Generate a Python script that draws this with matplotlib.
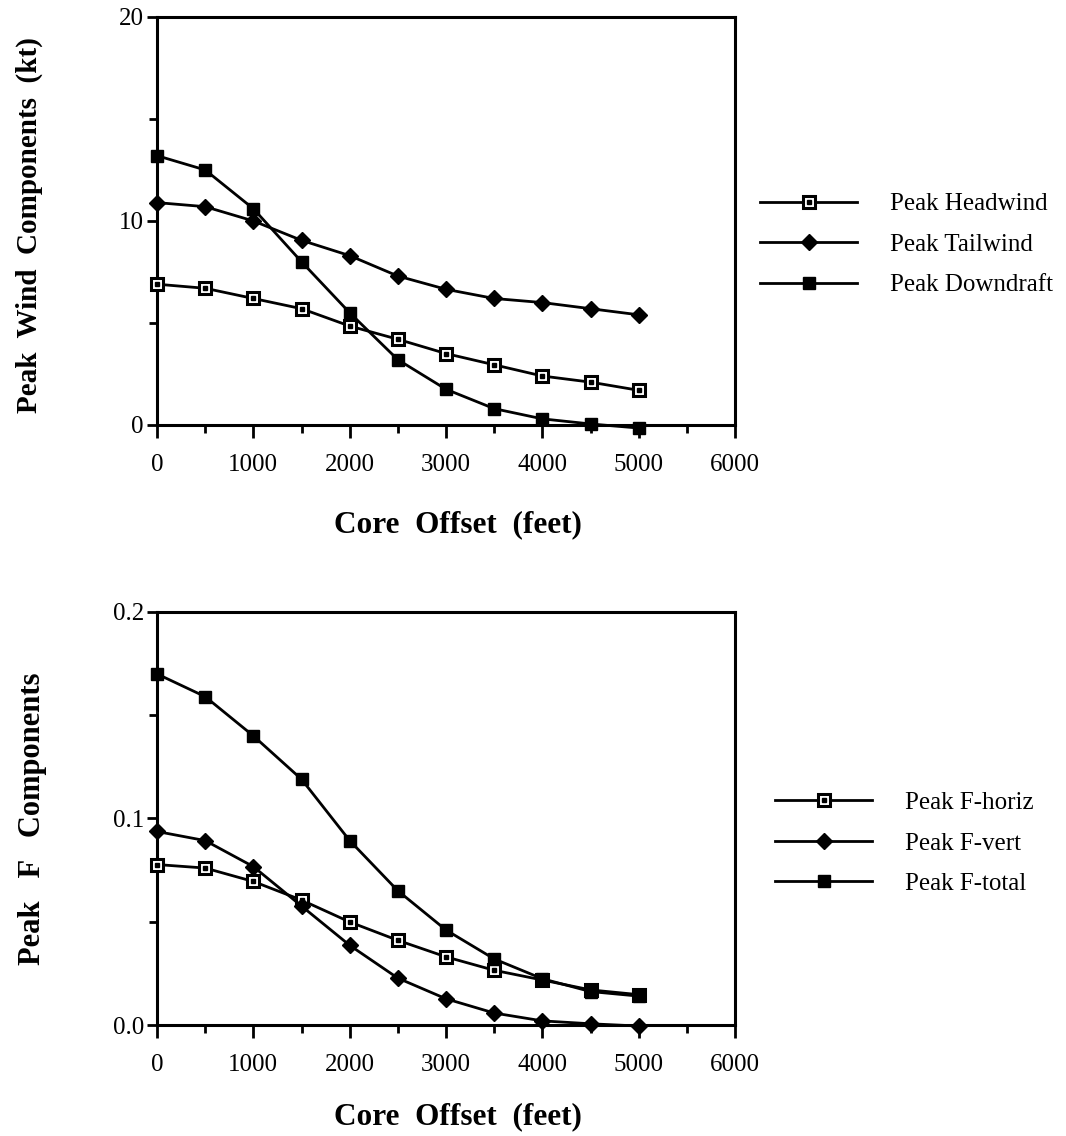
import matplotlib
matplotlib.use("Agg")
import matplotlib.pyplot as plt
from matplotlib.ticker import MultipleLocator, FormatStrFormatter
from matplotlib.legend_handler import HandlerTuple

plt.rcParams['font.family'] = ['Liberation Serif', 'DejaVu Serif']

# core offset (feet)
offset = [0, 500, 1000, 1500, 2000, 2500, 3000, 3500, 4000, 4500, 5000]

# top panel: peak wind components (kt)
headwind = [6.9, 6.7, 6.2, 5.7, 4.85, 4.2, 3.5, 2.95, 2.4, 2.1, 1.7]
tailwind = [10.9, 10.7, 10.0, 9.05, 8.3, 7.3, 6.65, 6.2, 6.0, 5.7, 5.4]
downdraft = [13.2, 12.5, 10.6, 8.0, 5.5, 3.2, 1.75, 0.8, 0.3, 0.05, -0.15]

# bottom panel: peak F components
f_horiz = [0.0777, 0.076, 0.0695, 0.0605, 0.0499, 0.041, 0.033, 0.0265, 0.0218, 0.017, 0.0147]
f_vert = [0.0937, 0.0893, 0.0767, 0.0576, 0.0386, 0.0227, 0.0127, 0.0058, 0.002, 0.0006, -0.0005]
f_total = [0.170, 0.159, 0.140, 0.119, 0.0893, 0.065, 0.046, 0.032, 0.0224, 0.0162, 0.014]

top_labels = ["Peak Headwind", "Peak Tailwind", "Peak Downdraft"]
bot_labels = ["Peak F-horiz", "Peak F-vert", "Peak F-total"]

fig = plt.figure(figsize=(10.66, 11.36), dpi=100)
ax1 = fig.add_axes([0.1473, 0.6259, 0.5422, 0.3592])
ax2 = fig.add_axes([0.1473, 0.0977, 0.5422, 0.3636])

lw = 2.0
ms = 9


def draw(ax, ys):
    h1, = ax.plot(offset, ys[0], color='black', lw=lw, marker='s', ms=ms,
                  mfc='white', mec='black', mew=2.2, clip_on=False, zorder=3)
    d1, = ax.plot(offset, ys[0], ls='none', marker='s', ms=2.2, color='black',
                  clip_on=False, zorder=4)
    h2, = ax.plot(offset, ys[1], color='black', lw=lw, marker='D', ms=8.5,
                  clip_on=False, zorder=3)
    h3, = ax.plot(offset, ys[2], color='black', lw=lw, marker='s', ms=ms,
                  clip_on=False, zorder=3)
    return [(h1, d1), h2, h3]


def style(ax):
    for s in ax.spines.values():
        s.set_linewidth(2.2)
    ax.set_xlim(0, 6000)
    ax.xaxis.set_major_locator(MultipleLocator(1000))
    ax.xaxis.set_minor_locator(MultipleLocator(500))
    ax.tick_params(axis='both', which='major', direction='out', width=2,
                   labelsize=18)
    ax.tick_params(axis='x', which='major', length=9, pad=12)
    ax.tick_params(axis='y', which='major', length=7.5, pad=2)
    ax.tick_params(axis='both', which='minor', direction='out', length=5.5, width=2)
    ax.set_xlabel("Core  Offset  (feet)", fontsize=22.5, fontweight='bold')


def add_legend(ax, handles, labels, x, y):
    ax.legend(handles, labels, handler_map={tuple: HandlerTuple(ndivide=1)},
              loc='center left', bbox_to_anchor=(x, y), frameon=False,
              fontsize=18, handlelength=3.9, handletextpad=1.3, labelspacing=0.72,
              borderaxespad=0, borderpad=0)


handles = draw(ax1, [headwind, tailwind, downdraft])
style(ax1)
ax1.set_ylim(0, 20)
ax1.yaxis.set_major_locator(MultipleLocator(10))
ax1.yaxis.set_minor_locator(MultipleLocator(5))
ax1.set_ylabel("Peak  Wind  Components  (kt)", fontsize=21, fontweight='bold')
ax1.yaxis.set_label_coords(-0.197, 0.49)
ax1.xaxis.set_label_coords(0.52, -0.208)
add_legend(ax1, handles, top_labels, 1.043, 0.442)

handles2 = draw(ax2, [f_horiz, f_vert, f_total])
style(ax2)
ax2.set_ylim(0, 0.2)
ax2.yaxis.set_major_locator(MultipleLocator(0.1))
ax2.yaxis.set_minor_locator(MultipleLocator(0.05))
ax2.yaxis.set_major_formatter(FormatStrFormatter('%.1f'))
ax2.set_ylabel("Peak   F   Components", fontsize=22, fontweight='bold')
ax2.yaxis.set_label_coords(-0.19, 0.5)
ax2.xaxis.set_label_coords(0.52, -0.188)
add_legend(ax2, handles2, bot_labels, 1.069, 0.44)

fig.savefig("out.png", dpi=100)
